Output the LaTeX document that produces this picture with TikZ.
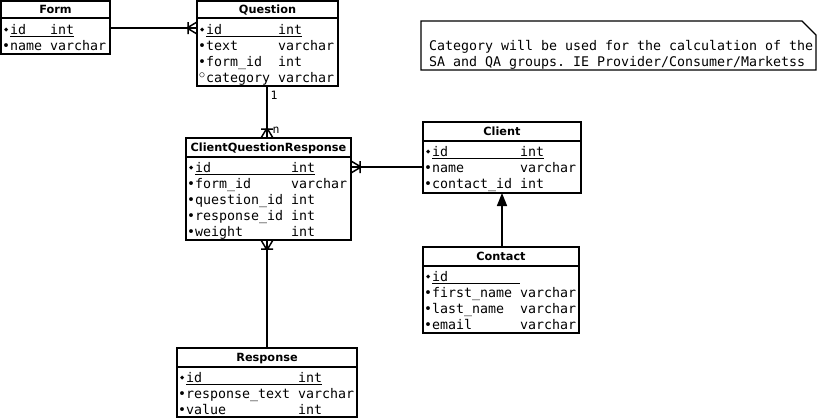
\documentclass[tikz,border=0pt]{standalone}
\usepackage{fontspec}
\setmonofont{DejaVu Sans Mono}
\newfontfamily\dvs{DejaVu Sans}
\usetikzlibrary{arrows.meta,calc}
\newcommand\gap[1]{\hspace*{\the\numexpr#1*8\relax pt}}
\newcommand\ulx[1]{\setbox0\hbox{#1}\rlap{\rule[-2.5pt]{\wd0}{1pt}}\box0}
\newcommand\mb{•}
\newcommand\mk{\makebox[8pt]{\raisebox{2.6pt}{\dvs\fontsize{5.5}{6}\selectfont ◆}}}
\newcommand\mo{\makebox[8pt]{\raisebox{1.5pt}{\dvs\bfseries\fontsize{14}{14}\selectfont ◦}}}
\tikzset{
  ebox/.style={draw, line width=1.6pt, anchor=north west, inner sep=0pt, outer sep=0pt},
  etitle/.style={font=\dvs\bfseries\fontsize{11.3}{13}\selectfont, anchor=base, inner sep=0pt},
  erow/.style={font=\ttfamily\fontsize{13.29}{16}\selectfont, anchor=base west, inner sep=0pt},
  conn/.style={line width=1.6pt},
  foot/.style={line width=1.5pt},
  lbl/.style={font=\ttfamily\fontsize{11.5}{13}\selectfont, inner sep=0pt},
}
\newcommand\ent[6]{%
  \node[ebox, minimum width=#4pt, minimum height=#5pt] (#1) at (#2,#3) {};
  \draw[line width=1.6pt] ([yshift=-#6pt]#1.north west) -- ([yshift=-#6pt]#1.north east);}
\newcommand\crow[2]{\begin{scope}[shift={(#1)},rotate=#2]
  \draw[foot] (-10,0) -- (0,6) (-10,0) -- (0,-6) (-9,-6) -- (-9,6);
  \end{scope}}
\begin{document}
\begin{tikzpicture}[x=1pt,y=1pt]
\useasboundingbox (0,0) rectangle (818,-418);

% entities
\ent{form}{1}{-1}{109}{53}{17}
\ent{question}{197}{-1}{141}{85}{17}
\ent{cqr}{186}{-138}{165}{102}{19}
\ent{client}{423}{-122}{158}{71}{19}
\ent{contact}{423}{-247}{156}{86}{19}
\ent{response}{177}{-348}{180}{69}{19}

% titles
\node[etitle] (formT) at (55.5,-13) {Form};
\node[etitle] (questionT) at (267.5,-13) {Question};
\node[etitle] (cqrT) at (268.5,-151.5) {ClientQuestionResponse};
\node[etitle] (clientT) at (502,-135.5) {Client};
\node[etitle] (contactT) at (501,-260.5) {Contact};
\node[etitle] (responseT) at (267,-361.5) {Response};

% Form rows
\node[erow] (formA) at (2,-34) {\mk\ulx{id\gap{3}int}};
\node[erow] (formB) at (2,-50) {\mb name\gap{1}varchar};
% Question rows
\node[erow] (questionA) at (198,-34) {\mk\ulx{id\gap{7}int}};
\node[erow] (questionB) at (198,-50) {\mb text\gap{5}varchar};
\node[erow] (questionC) at (198,-66) {\mb form\_id\gap{2}int};
\node[erow] (questionD) at (198,-82) {\mo category\gap{1}varchar};
% CQR rows
\node[erow] (cqrA) at (187,-172) {\mk\ulx{id\gap{10}int}};
\node[erow] (cqrB) at (187,-188) {\mb form\_id\gap{5}varchar};
\node[erow] (cqrC) at (187,-204) {\mb question\_id\gap{1}int};
\node[erow] (cqrD) at (187,-220) {\mb response\_id\gap{1}int};
\node[erow] (cqrE) at (187,-236) {\mb weight\gap{6}int};
% Client rows
\node[erow] (clientA) at (424,-156) {\mk\ulx{id\gap{9}int}};
\node[erow] (clientB) at (424,-172) {\mb name\gap{7}varchar};
\node[erow] (clientC) at (424,-188) {\mb contact\_id\gap{1}int};
% Contact rows
\node[erow] (contactA) at (424,-281) {\mk\ulx{id\gap{9}}};
\node[erow] (contactB) at (424,-297) {\mb first\_name\gap{1}varchar};
\node[erow] (contactC) at (424,-313) {\mb last\_name\gap{2}varchar};
\node[erow] (contactD) at (424,-329) {\mb email\gap{6}varchar};
% Response rows
\node[erow] (responseA) at (178,-382) {\mk\ulx{id\gap{12}int}};
\node[erow] (responseB) at (178,-398) {\mb response\_text\gap{1}varchar};
\node[erow] (responseC) at (178,-414) {\mb value\gap{9}int};

% note
\node[inner sep=0pt, outer sep=0pt, minimum width=395pt, minimum height=49pt, anchor=north west] (note) at (421,-21) {};
\draw[line width=1.3pt] (note.north west) -- ([xshift=-14pt]note.north east)
  -- ([yshift=-14pt]note.north east) -- (note.south east) -- (note.south west) -- cycle;
\node[erow] (noteA) at (429,-50) {Category will be used for the calculation of the};
\node[erow] (noteB) at (429,-66) {SA and QA groups. IE Provider/Consumer/Marketss};

% connector helpers
\coordinate (fq) at (0,-28);
\coordinate (qx) at (267,0);
\coordinate (cc) at (0,-167);
\coordinate (kx) at (502,0);

% Form - Question
\draw[conn] (form.east |- fq) -- (question.west |- fq);
\crow{question.west |- fq}{0}
% Question - CQR
\draw[conn] (question.south -| qx) -- (cqr.north -| qx);
\crow{cqr.north -| qx}{-90}
\node[lbl] (one) at (274,-95) {1};
\node[lbl] (enn) at (276,-130) {n};
% CQR - Client
\draw[conn] (cqr.east |- cc) -- (client.west |- cc);
\crow{cqr.east |- cc}{180}
% CQR - Response
\draw[conn] (cqr.south -| qx) -- (response.north -| qx);
\crow{cqr.south -| qx}{90}
% Contact -> Client
\draw[conn, -{Triangle[length=13pt,width=10pt]}] (contact.north -| kx) -- (client.south -| kx);
\end{tikzpicture}
\end{document}
